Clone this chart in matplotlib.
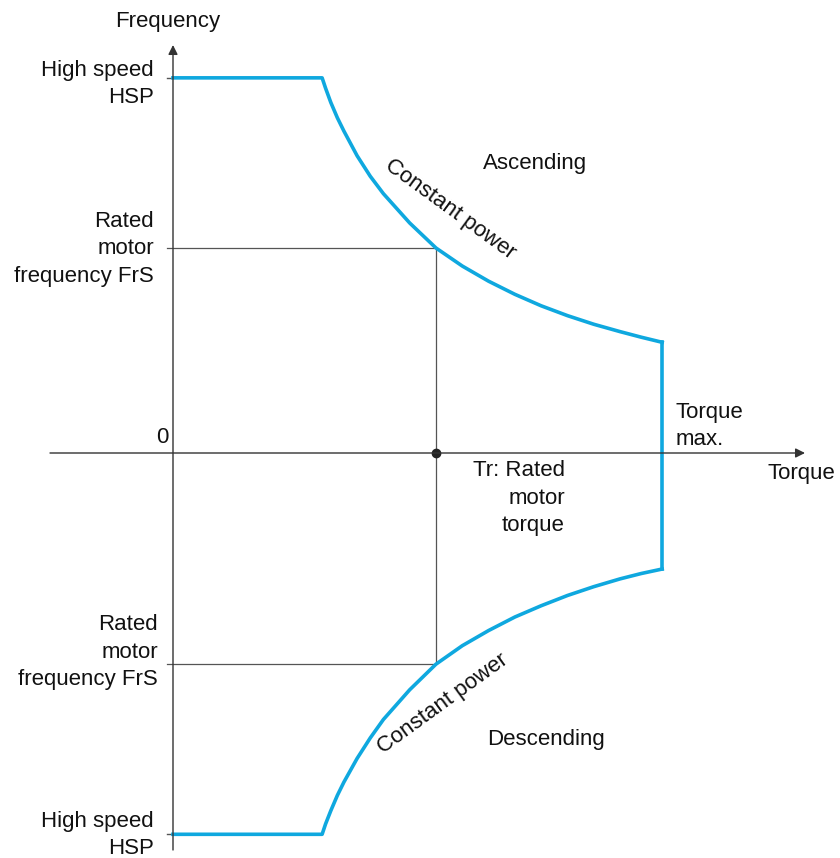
import matplotlib
matplotlib.use("Agg")
import matplotlib.pyplot as plt

plt.rcParams['font.family'] = ['Liberation Sans', 'DejaVu Sans']

# Data (torque in units of rated torque Tr, frequency in units of rated FrS)
hsp_up = 1.83
hsp_down = -1.86
frs_up = 1.0
frs_down = -1.03
tr = 1.0
tmax = 1.86

# Ascending constant-power curve
asc_T = [0.567, 0.58, 0.6, 0.625, 0.65, 0.7, 0.75, 0.8, 0.9, 1.0, 1.1, 1.2, 1.3, 1.4, 1.5, 1.6, 1.7, 1.78, 1.86]
asc_f = [1.83, 1.78, 1.71, 1.635, 1.57, 1.45, 1.35, 1.265, 1.122, 1.0, 0.912, 0.838, 0.774, 0.718, 0.67, 0.628, 0.592, 0.565, 0.54]
# Descending constant-power curve
desc_T = [0.567, 0.58, 0.6, 0.625, 0.65, 0.7, 0.75, 0.8, 0.9, 1.0, 1.1, 1.2, 1.3, 1.4, 1.5, 1.6, 1.7, 1.78, 1.86]
desc_f = [-1.86, -1.81, -1.745, -1.67, -1.605, -1.49, -1.39, -1.30, -1.155, -1.03, -0.94, -0.866, -0.80, -0.745, -0.695, -0.652, -0.614, -0.588, -0.566]

BLUE = '#0FA8DF'
GRAY = '#555555'
AX = '#333333'

fig = plt.figure(figsize=(8.4, 8.58), dpi=100)
ax = fig.add_axes([0, 0, 1, 1])
ax.set_xlim(-173/263, 667/263)
ax.set_ylim((453-858)/205, 453/205)
ax.axis('off')

px = 1/263.0  # torque units per pixel
py = 1/205.0  # freq units per pixel

# axes with arrows
ax.annotate('', xy=(632*px, 0), xytext=(-123*px, 0),
            arrowprops=dict(arrowstyle='-|>', color=AX, lw=1.0, mutation_scale=14, shrinkA=0, shrinkB=0))
ax.annotate('', xy=(0, 408*py), xytext=(0, -397*py),
            arrowprops=dict(arrowstyle='-|>', color=AX, lw=1.0, mutation_scale=14, shrinkA=0, shrinkB=0))

# tick marks at HSP
ax.plot([-6*px, 0], [hsp_up, hsp_up], color=GRAY, lw=1)
ax.plot([-6*px, 0], [hsp_down, hsp_down], color=GRAY, lw=1)

# rated lines
ax.plot([-6*px, tr, tr], [frs_up, frs_up, 0], color=GRAY, lw=0.9)
ax.plot([-6*px, tr, tr], [frs_down, frs_down, 0], color=GRAY, lw=0.9)
ax.plot([tr], [0], 'o', color='#222222', ms=6)

# blue boundary
ax.plot([0] + asc_T + [tmax], [hsp_up] + asc_f + [asc_f[-1]], color=BLUE, lw=2.6, solid_joinstyle='round')
ax.plot([tmax, tmax], [asc_f[-1], desc_f[-1]], color=BLUE, lw=2.6)
ax.plot([0] + desc_T, [hsp_down] + desc_f, color=BLUE, lw=2.6, solid_joinstyle='round')

fs = 16
def px2d(x, y):
    return ((x-173)*px, (453-y)*py)

def txt(x, y, s, ha='center', va='center', rot=0, ls=1.38):
    X, Y = px2d(x, y + 2)
    ax.text(X, Y, s, ha=ha, va=va, fontsize=fs, rotation=rot, linespacing=ls,
            color='#111111', multialignment=ha if ha != 'center' else 'center',
            rotation_mode='anchor')

txt(168, 19, 'Frequency')
txt(154, 82, 'High speed\nHSP', ha='right')
txt(154, 247, 'Rated\nmotor\nfrequency FrS', ha='right')
txt(158, 650, 'Rated\nmotor\nfrequency FrS', ha='right')
txt(154, 833, 'High speed\nHSP', ha='right')
txt(162, 435, '0')
txt(801, 471, 'Torque')
txt(676, 424, 'Torque\nmax.', ha='left')
txt(565, 496, 'Tr: Rated\nmotor\ntorque', ha='right')
txt(535, 162, 'Ascending')
txt(546, 738, 'Descending')
txt(450, 207, 'Constant power', rot=-36)
txt(443, 702, 'Constant power', rot=36)

fig.savefig('out.png', dpi=100)
